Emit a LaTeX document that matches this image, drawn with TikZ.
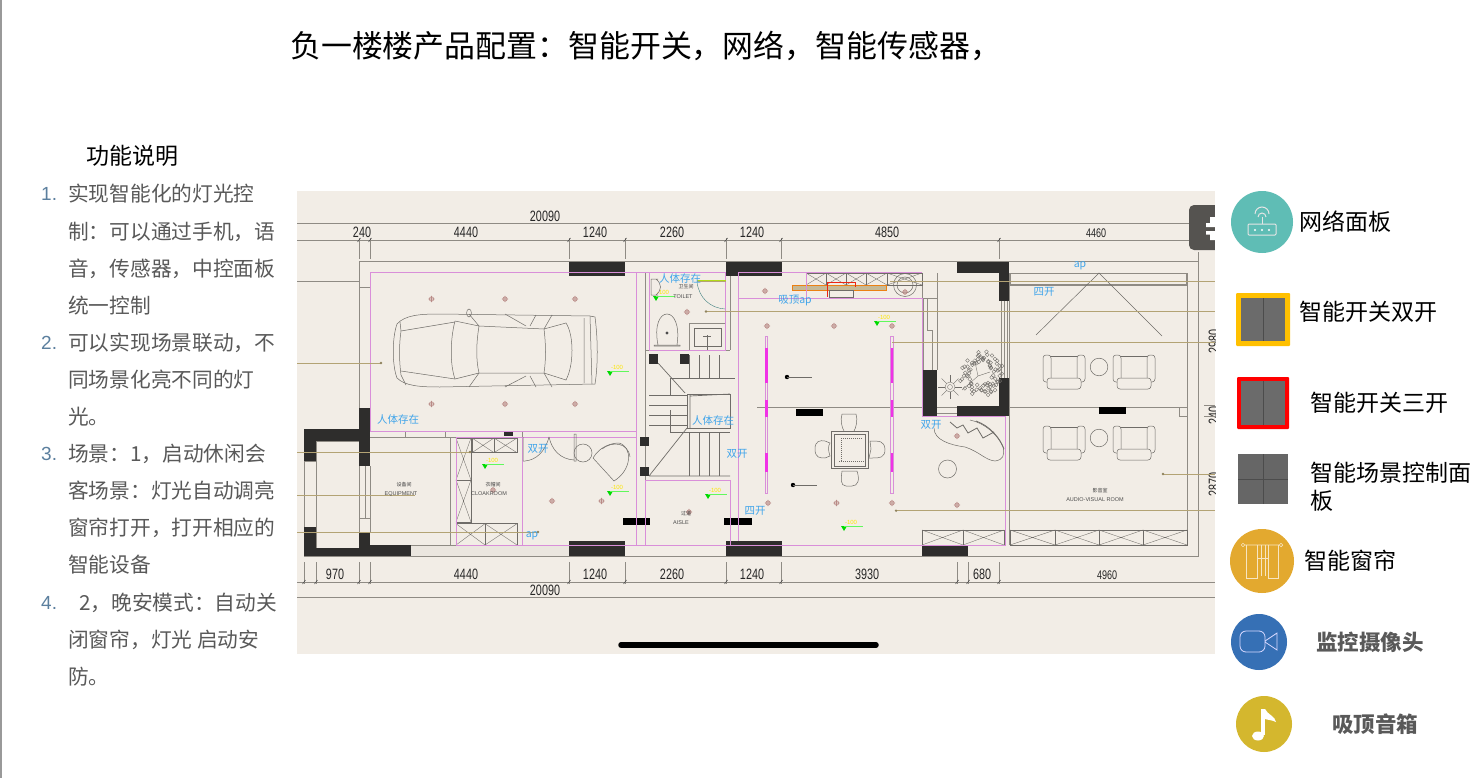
\documentclass[tikz,border=0pt]{standalone}
\usepackage{fontspec}
\setmainfont{Liberation Sans}
\newfontfamily\cjk{Noto Sans CJK SC}
\newfontfamily\dimf[FakeStretch=0.72]{Liberation Sans}
\definecolor{planbg}{HTML}{F2EDE6}
\definecolor{wallc}{HTML}{2E2D2C}
\definecolor{linec}{HTML}{8F8B84}
\definecolor{thinc}{HTML}{6F6C68}
\definecolor{pinkc}{HTML}{D98FD9}
\definecolor{magc}{HTML}{F032E6}
\definecolor{tanc}{HTML}{B3A374}
\definecolor{lampc}{HTML}{B98A86}
\definecolor{bluec}{HTML}{3FA4EA}
\definecolor{bodyc}{HTML}{595959}
\definecolor{numc}{HTML}{5B7F9E}
\definecolor{tabc}{HTML}{555350}
\definecolor{tealc}{HTML}{5FBDB5}
\definecolor{ambc}{HTML}{FFC000}
\definecolor{redc}{HTML}{FF0000}
\definecolor{greyc}{HTML}{6B6B6B}
\definecolor{grey2c}{HTML}{666666}
\definecolor{orc}{HTML}{E3A92F}
\definecolor{bluebc}{HTML}{3670B5}
\definecolor{goldc}{HTML}{D4B72E}
\tikzset{x=1pt,y=-1pt,
 wall/.style={fill=wallc,draw=none},
 thin line/.style={draw=linec,line width=.9pt},
 cad/.style={draw=thinc,line width=.5pt},
 pinkl/.style={draw=pinkc,line width=.9pt},
 tanl/.style={draw=tanc,line width=.7pt},
 lbl/.style={inner sep=0pt,anchor=west,font=\cjk\fontsize{23}{23}\selectfont,text=black},
 body/.style={inner sep=0pt,anchor=west,font=\cjk\fontsize{20.7}{21}\selectfont,text=bodyc},
 numl/.style={inner sep=0pt,anchor=west,font=\fontsize{19}{21}\selectfont,text=numc},
 boldl/.style={inner sep=0pt,anchor=west,font=\cjk\bfseries\fontsize{21.5}{22}\selectfont,text=bodyc},
 bluel/.style={inner sep=0pt,font=\cjk\fontsize{10.5}{10.5}\selectfont,text=bluec},
 dimt/.style={inner sep=0pt,font=\dimf\fontsize{15}{15}\selectfont,text=black!85},
 roomt/.style={inner sep=0pt,font=\fontsize{5.5}{6}\selectfont,text=black!70},
 roomc/.style={inner sep=0pt,font=\cjk\fontsize{5}{6}\selectfont,text=black!75},
 icon/.style={draw=white!90!black,line width=1pt},
 lamp/.pic={\draw[lampc,line width=.6pt] (0,0) circle (2.2) (-3.2,0)--(3.2,0) (0,-3.2)--(0,3.2);},
 lvl/.pic={\fill[green!85!black] (-3,-2)--(3,-2)--(0,3)--cycle;
   \draw[green!60!planbg,line width=.5pt] (0,-2)--(19,-2);
   \node[inner sep=0pt,font=\fontsize{6}{6}\selectfont,text=yellow!90!orange] at (7,-6) {-100};},
}
\newcommand\xbox[4]{\draw[cad,line width=.8pt] (#1,#2) rectangle (#3,#4);\draw[cad,line width=.35pt] (#1,#2)--(#3,#4) (#1,#4)--(#3,#2);}
\newcommand\armchair[2]{%
 \begin{scope}[shift={(#1,#2)}]
 \draw[cad] (-14,-13) rectangle (14,10);
 \draw[cad,fill=planbg,rounded corners=3pt] (-21,-14) rectangle (-13,13);
 \draw[cad,fill=planbg,rounded corners=3pt] (13,-14) rectangle (21,13);
 \draw[cad,fill=planbg,rounded corners=3pt] (-17,9) rectangle (17,20);
 \end{scope}}
\begin{document}
\begin{tikzpicture}
\useasboundingbox (0,0) rectangle (1479,778);
\fill[white] (0,0) rectangle (1479,778);
\draw[draw=black!40,line width=2pt] (1,0)--(1,778);

% ---------- title and left column
\node[inner sep=0pt,anchor=west,font=\cjk\fontsize{30.9}{31}\selectfont] (title) at (290,46) {负一楼楼产品配置：智能开关，网络，智能传感器，};
\node[lbl] (func) at (86,156) {功能说明};
\node[numl] (n1) at (41,194) {1.};
\node[numl] (n2) at (41,343) {2.};
\node[numl] (n3) at (41,454) {3.};
\node[numl] (n4) at (41,603) {4.};
\node[body] (l1) at (68,194) {实现智能化的灯光控};
\node[body] (l2) at (68,232) {制：可以通过手机，语};
\node[body] (l3) at (68,269) {音，传感器，中控面板};
\node[body] (l4) at (68,306) {统一控制};
\node[body] (l5) at (68,343) {可以实现场景联动，不};
\node[body] (l6) at (68,380) {同场景化亮不同的灯};
\node[body] (l7) at (68,417) {光。};
\node[body] (l8) at (68,454) {场景：1，启动休闲会};
\node[body] (l9) at (68,491) {客场景：灯光自动调亮};
\node[body] (l10) at (68,528) {窗帘打开，打开相应的};
\node[body] (l11) at (68,565) {智能设备};
\node[body] (l12) at (79,603) {2，晚安模式：自动关};
\node[body] (l13) at (68,640) {闭窗帘，灯光 启动安};
\node[body] (l14) at (68,677) {防。};

% ---------- plan background
\fill[planbg] (297,191) rectangle (1215,654);

% dimension lines
\draw[thin line] (297,223)--(1215,223) (297,240)--(1215,240);
\draw[thin line] (297,582)--(1215,582) (297,597)--(1215,597);
\foreach \x in {359,370,569,625,726,781,999}{
 \draw[thin line,line width=.6pt] (\x,238)--(\x,259);
 \draw[black!70,line width=.6pt] (\x-1.5,242)--(\x+1.5,238);}
\foreach \x in {304,316,359,370,569,625,726,781,957,968,999}{
 \draw[thin line,line width=.6pt] (\x,562)--(\x,584);
 \draw[black!70,line width=.6pt] (\x-1.5,584)--(\x+1.5,580);}
\node[dimt] (d1) at (545,216) {20090};
\node[dimt] (d2) at (362,232) {240};
\node[dimt] (d3) at (466,232) {4440};
\node[dimt] (d4) at (595,232) {1240};
\node[dimt] (d5) at (672,232) {2260};
\node[dimt] (d6) at (752,232) {1240};
\node[dimt] (d7) at (887,232) {4850};
\node[dimt,font=\dimf\fontsize{12.5}{12.5}\selectfont] (d8) at (1096,233) {4460};
\node[dimt] (d9) at (335,574) {970};
\node[dimt] (d10) at (466,574) {4440};
\node[dimt] (d11) at (595,574) {1240};
\node[dimt] (d12) at (672,574) {2260};
\node[dimt] (d13) at (752,574) {1240};
\node[dimt] (d14) at (867,574) {3930};
\node[dimt] (d15) at (982,574) {680};
\node[dimt,font=\dimf\fontsize{12.5}{12.5}\selectfont] (d16) at (1107,575) {4960};
\node[dimt] (d17) at (545,590) {20090};
\begin{scope}
\clip (297,191) rectangle (1215,654);
\node[dimt,rotate=90] (d18) at (1214,341) {2980};
\node[dimt,rotate=90] (d19) at (1214,415) {240};
\node[dimt,rotate=90] (d20) at (1214,484) {2870};
\end{scope}
\draw[thin line,line width=.6pt] (1198,252)--(1198,261) (1204,405)--(1215,405) (1204,416)--(1215,416);

% outer walls
\draw[thin line] (359,261)--(1198,261)--(1198,556)--(304,556);
\draw[thin line] (359,261)--(359,408);
\draw[thin line] (297,281)--(359,281) (359,287)--(370,287);
\draw[thin line] (370,273)--(370,408);
\draw[thin line] (316,441)--(359,441) (316,441)--(316,548) (316,548)--(359,548);
\draw[thin line] (304,461)--(304,527) (316,461)--(304,461) (316,527)--(304,527);
\draw[thin line,line width=.6pt] (359,466)--(359,532) (370,466)--(370,532) (365,466)--(365,518) (359,518)--(370,518);
\draw[thin line] (370,437)--(636,437) (370,545)--(922,545);
\fill[black!3!planbg] (411,546) rectangle (569,555.5);
% inner partitions
\draw[thin line,line width=.7pt] (450,437)--(450,545) (405,431)--(405,437) (445,431)--(445,437) (522,431)--(522,462);
\draw[thin line] (645,272)--(645,480) (649,272)--(649,350)
 (645,350)--(730,350) (645,480)--(730,480) (730,272)--(730,350);
\draw[thin line] (689,350)--(689,323)--(725,323);
\draw[thin line] (757,407)--(922,407) (1009,407)--(1187,407) (937,407)--(957,407) (937,413)--(957,413);
\draw[thin line] (1009,273)--(1009,545) (1187,273)--(1187,545) (1179,407)--(1179,416)--(1187,416);
\draw[thin line,line width=.6pt] (937,273)--(937,370) (922,273)--(922,298)
 (922,298)--(937,298) (927,298)--(927,330)--(932,330)--(932,370) (923,298)--(923,370);
\draw[thin line,line width=.6pt] (1001,301)--(1001,378) (1004,301)--(1004,378) (1007,301)--(1007,378);

% solid walls
\foreach \a/\b/\c/\d in {569/262/625/276,726/262/782/276,957/262/1009/273,999/262/1009/301,
 999/378/1009/416,957/406/1009/416,922/370/937/416,
 359/408/370/466,304/429/370/441,304/429/316/461,304/527/316/556,304/548/370/556,359/532/370/556,359/545/411/556,
 569/541/625/556,726/541/782/556,922/545/968/556,
 649/354/658/364,680/354/689/364,640/437/649/446,640/467/649/476}
 \fill[wall] (\a,\b) rectangle (\c,\d);
\fill[wall] (504,432) rectangle (513,436);
\foreach \a/\b/\c/\d in {796/409/823/416,1099/407/1126/414,623/518/650/525,724/518/752/525}
 \fill[black] (\a,\b) rectangle (\c,\d);

% cabinets
\xbox{456}{438}{471}{480}\xbox{456}{480}{471}{522}
\xbox{472}{438}{494}{452.7}\xbox{494}{438}{517}{452.7}
\xbox{456}{523.7}{485}{545}\xbox{485}{523.7}{517}{545}
\foreach \a/\b in {806/826,826/846,846/866,866/887,887/922}{\xbox{\a}{273}{\b}{285}}
\xbox{922}{530}{963}{545}\xbox{963}{530}{1004}{545}
\xbox{1010}{530}{1055}{545}\xbox{1055}{530}{1099}{545}\xbox{1099}{530}{1143}{545}\xbox{1143}{530}{1187}{545}
\draw[linec,line width=1.3pt] (1010,273.5) rectangle (1187,285);
\draw[cad] (1036,335)--(1099,273)--(1162,336);
\draw[draw=orange!70!brown,fill=tanc!70!planbg,line width=.8pt] (792,285.5) rectangle (886,290.5);
\draw[draw=red!70!brown,line width=.7pt] (827,282)--(855,282)--(855,287) (827,282)--(827,297);
\draw[cad] (829,290) rectangle (853,297);
\draw[cad] (905,285) circle (11.5) (905,285) circle (8);

% pink room outlines
\draw[pinkl] (370,272.5)--(726,272.5) (738,272.5)--(922,272.5);
\draw[pinkl] (370,272.5)--(370,431)--(636,431);
\draw[pinkl] (636,272.5)--(636,545) (645,480)--(645,545) (730,480)--(730,545) (738,272.5)--(738,541);
\draw[pinkl] (649.5,272.5)--(649.5,350)--(725,350)--(725,272.5);
\draw[pinkl] (738,298)--(922,298)--(922,416)--(1005,416)--(1005,545)--(456,545)--(456,437)--(636,437);
\draw[pinkl] (645,480)--(730,480) (522,437)--(522,545) (806,272.5)--(806,298);
% magenta posts
\foreach \x in {766.5,892}{
 \draw[pinkl,line width=.7pt] (\x-1.2,336) rectangle (\x+1.2,493);
 \foreach \a/\b in {348/383,400/417,453/472}
  \fill[magc] (\x-1.3,\a) rectangle (\x+1.3,\b);}

% tan leader lines
\draw[tanl] (297,363)--(381,363) (297,452)--(470,452) (297,495)--(415,495) (297,532)--(538,532);
\draw[tanl] (697,281)--(726,281) (890,281)--(1215,281) (706,311.5)--(1215,311.5) (892,342)--(1215,342)
 (1163,474)--(1215,474) (896,510.7)--(1215,510.7);
\foreach \x/\y in {381/363,470/452,538/532,706/311.5,896/510.7,1163/474}
 \fill[tanc!80!black] (\x,\y) circle (1.3);
\draw[yellow!70!green,line width=.5pt] (697,280)--(726,280);

% lamps and level marks
\foreach \x/\y in {431.5/299,505/299,575/299,431.5/404,505/404,575/404,687/312,765/291,767/326,834/326,892/326,905/292,
 768/503,836.5/503,892/503,957/505,957/436,552/501,601.5/501,689/512,493/490}
 \pic at (\x,\y) {lamp};
\foreach \x/\y in {610/373,656/298,485/466,610/493,708/496,877/323,844/528}
 \pic at (\x,\y) {lvl};

% car
\begin{scope}[cad]
\draw (397,324) .. controls (405,315) and (420,314) .. (440,314) -- (590,316) -- (595,317) .. controls (598,340) and (598,365) .. (595,384)
 -- (440,387) .. controls (420,387) and (405,386) .. (397,378) .. controls (392,365) and (392,338) .. (397,324) -- cycle;
\draw (401,331) .. controls (399,345) and (399,360) .. (401,375) (401,331)--(400,322) (401,375)--(406,385) (401,331)--(455,322) (401,371)--(455,379);
\draw (455,321) .. controls (450,340) and (450,365) .. (455,379) (479,326) .. controls (476,345) and (476,360) .. (479,373);
\draw (455,321)--(479,326)--(544,329)--(566,323) .. controls (574,335) and (574,365) .. (566,380)--(544,373)--(479,373)--(455,379);
\draw (544,329) .. controls (546,345) and (546,360) .. (544,373) (479,326)--(469,314) (479,373)--(469,387) (526,326)--(505,314) (526,376)--(505,387);
\draw (544,329)--(552,315) (544,373)--(552,387) (530,326)--(536,315) (530,376)--(536,387);
\draw (590,316)--(592,384) (584,318)--(584,383);
\draw (469,313) circle[x radius=2.4,y radius=4];
\end{scope}

% toilet fixtures
\begin{scope}[cad]
\draw (658,279)--(651,279) (651,279)--(651,295) (651,295)--(658,295) (656,279) .. controls (662,284) and (662,290) .. (656,295);
\draw (658,345) .. controls (654,325) and (660,314) .. (667,314) .. controls (674,314) and (680,325) .. (677,345) (654,345) rectangle (680,346);
\fill[black!70] (667,333) circle (1.6);
\draw[line width=.9pt] (694,328) rectangle (721,346);
\draw (707,335)--(707,350) (703,336)--(711,336);
\draw[teal!50!gray,line width=.4pt] (697,282) .. controls (699,298) and (710,308) .. (725,309);
\end{scope}

% stairs
\begin{scope}[cad,line width=.7pt]
\foreach \x in {689,699,709,719}{\draw (\x,355)--(\x,378);}
\draw (670,378)--(735,378) (670,378)--(670,396);
\foreach \y in {395,405,415,425}{\draw (649,\y)--(687,\y);}
\draw (687,394) rectangle (730,428);
\draw (690,395)--(690,428) (690,396)--(730,394);
\foreach \x in {689,699,709,719}{\draw (\x,432)--(\x,476);}
\draw (670,432)--(730,432) (670,410)--(670,432);
\draw (649,476)--(730,476) (658,363)--(685,393) (649,476)--(687,428);
\end{scope}

% lobby furniture
\begin{scope}[cad]
\draw (523,461)--(523,437) (523,461)--(525,461) (525,461) .. controls (536,460) and (545,452) .. (549,437);
\draw (549,437) .. controls (552,450) and (560,459) .. (574,460) (574,434)--(574,461)--(576,461)--(576,434)--cycle;
\draw (583,453) circle (9);
\draw (593,458) .. controls (600,446) and (612,443) .. (619,443) .. controls (633,447) and (632,470) .. (614,481)--(593,458);
\draw (602,449) .. controls (612,441) and (628,442) .. (630,457);
\end{scope}

% mahjong table and chairs
\begin{scope}[cad]
\draw (831,431) rectangle (868,468.5) (834,434) rectangle (865,466) ;
\draw[densely dotted,line width=1pt] (841,438)--(862,438) (841,440)--(841,461) (839,461)--(864,461);
\draw (825,441) .. controls (820,440) and (815,441) .. (815,449) .. controls (815,458) and (820,458) .. (825,458) -- (830,456) .. controls (828,450) and (828,446) .. (830,443)--cycle;
\draw (870,441) .. controls (880,441) and (884,441) .. (885,449) .. controls (885,458) and (880,458) .. (872,458) -- (869,458) -- (871,449) --cycle;
\draw (842,471) -- (857,471) .. controls (860,480) and (858,486) .. (852,486) -- (846,486) .. controls (840,486) and (841,478) .. (842,471);
\draw (842,414) .. controls (840,420) and (842,428) .. (844,431) (856,414) .. controls (858,420) and (856,428) .. (854,431) (842,414)--(856,414);
\fill[black] (787,377) circle (2.2) (793,485) circle (2.2);
\draw (787,377)--(812,377) (793,485)--(817,485);
\draw (934,428) .. controls (934,440) and (950,445) .. (965,447) .. controls (980,452) and (985,460) .. (995,461) .. controls (1003,460) and (1005,455) .. (1003,447) .. controls (998,435) and (985,423) .. (970,420);
\draw[line width=.8pt] (976,421) .. controls (990,426) and (1000,438) .. (1004,449);
\draw[line width=.8pt] (950,422)--(957,428)--(963,425)--(968,433)--(977,428)--(983,438)--(994,432);
\draw (947.5,469) circle (9);
\end{scope}

% plant and tree
\begin{scope}[cad,line width=.35pt]
\pgfmathsetseed{7}
\foreach \i in {1,...,85}{
 \pgfmathsetmacro\rr{11+12*rnd}
 \pgfmathsetmacro\tt{360*rnd}
 \draw ({981+\rr*cos(\tt)},{374+\rr*sin(\tt)}) circle (1.9);}
\draw (978,376)--(962,390) (978,376)--(990,372) (978,376)--(975,362);
\draw (950,387) circle (5) (950,387) circle (2.5);
\foreach \a in {0,45,...,315}
 \draw (\a:5)++(950,387)--++(\a:7);
\end{scope}

% armchairs and side tables
\armchair{1064}{369}\armchair{1134}{369}\armchair{1064}{440}\armchair{1134}{440}
\draw[cad] (1099,367) circle (8.8) (1099,438) circle (8.8);

% room labels
\node[roomc] (r1) at (686,287) {卫生间};
\node[roomt] (r2) at (683,297) {TOILET};
\node[roomc] (r3) at (404,485) {设备间};
\node[roomt] (r4) at (401,494) {EQUIPMENT};
\node[roomc] (r5) at (493,485) {衣帽间};
\node[roomt] (r6) at (489,494) {CLOAKROOM};
\node[roomc] (r7) at (686,514) {过道};
\node[roomt] (r8) at (681,523) {AISLE};
\node[roomc] (r9) at (1100,491) {影音室};
\node[roomt] (r10) at (1095,500) {AUDIO-VISUAL ROOM};

% blue labels
\node[bluel] (b1) at (680,279) {人体存在};
\node[bluel] (b2) at (398,420) {人体存在};
\node[bluel] (b3) at (713,421) {人体存在};
\node[bluel] (b4) at (795,301) {吸顶ap};
\node[bluel] (b5) at (1080,266) {ap};
\node[bluel] (b6) at (1044,292) {四开};
\node[bluel] (b7) at (931,425) {双开};
\node[bluel] (b8) at (538,449) {双开};
\node[bluel] (b9) at (737,454) {双开};
\node[bluel] (b10) at (755,511) {四开};
\node[bluel] (b11) at (532,536) {ap};

% overlays on the picture
\fill[tabc,rounded corners=5pt] (1189,205) rectangle (1225,250);
\fill[white] (1210,217) rectangle (1215,223) (1206,223) rectangle (1215,227) (1206,231) rectangle (1215,234.5) (1210,234.5) rectangle (1215,240);
\fill[white] (1215,200) rectangle (1231,255);
\draw[black,line width=5.5pt,line cap=round] (621,645)--(876,645);

% ---------- legend
\fill[tealc] (1262,222) circle (31);
\begin{scope}[icon]
\draw[rounded corners=1pt] (1248,224) rectangle (1276,235);
\draw (1262,224)--(1262,217);
\draw (1258,217) arc[start angle=180,end angle=360,radius=4];
\draw (1255,214) arc[start angle=180,end angle=360,radius=7];
\end{scope}
\fill[white] (1255,230) circle (1.2) (1262,230) circle (1.2) (1269,230) circle (1.2);

\fill[ambc,rounded corners=1pt] (1236,293) rectangle (1290,346);
\fill[greyc] (1241,298) rectangle (1285,341);
\draw[black!70,line width=1pt] (1263,298)--(1263,341);
\fill[redc,rounded corners=1pt] (1237,377) rectangle (1289,429);
\fill[greyc] (1241,381) rectangle (1285,425);
\draw[black!70,line width=1pt] (1263,381)--(1263,425);
\fill[grey2c] (1238,454) rectangle (1288,504);
\draw[black!70,line width=1pt] (1263,454)--(1263,504) (1238,479)--(1288,479);

\fill[orc] (1262,561) circle (32);
\begin{scope}[draw=white!70!orc,line width=.6pt]
\draw (1243,545) circle (1.8) (1281,545) circle (1.8) (1245,545)--(1279,545);
\draw (1246,545)--(1246,578)--(1257,578)--(1257,545) (1268,545)--(1268,578)--(1278,578)--(1278,545);
\draw (1261,545)--(1261,576) (1265,545)--(1265,576) (1257,558)--(1268,558);
\end{scope}

\fill[bluebc] (1259,642) circle (28);
\begin{scope}[draw=white!85!blue,line width=.8pt]
\draw[rounded corners=6pt] (1240,631) rectangle (1265,652);
\draw (1265,641)--(1277,633)--(1277,650)--(1265,642);
\end{scope}

\fill[goldc] (1264,724) circle (28);
\fill[white] (1258,736) circle[x radius=6,y radius=4.5];
\fill[white] (1261,709) rectangle (1265,735);
\fill[white] (1265,709) .. controls (1268,715) and (1275,716) .. (1276,722) .. controls (1272,720) and (1268,720) .. (1265,719) --cycle;

\node[lbl] (t1) at (1299,222) {网络面板};
\node[lbl] (t2) at (1299,312) {智能开关双开};
\node[lbl] (t3) at (1310,403) {智能开关三开};
\node[lbl] (t4) at (1310,473) {智能场景控制面};
\node[lbl] (t4b) at (1310,501) {板};
\node[lbl] (t5) at (1304,561) {智能窗帘};
\node[boldl] (t6) at (1316,642) {监控摄像头};
\node[boldl] (t7) at (1332,724) {吸顶音箱};
\end{tikzpicture}
\end{document}
